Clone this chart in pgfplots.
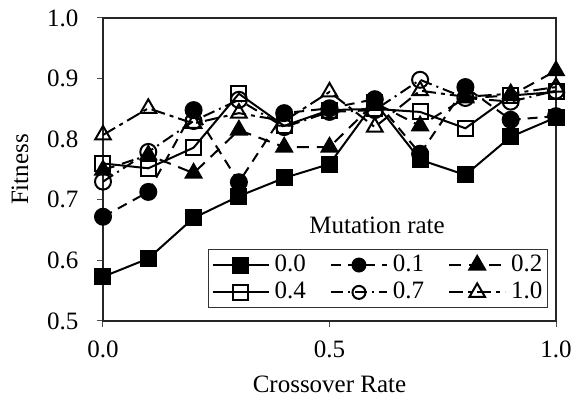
\documentclass[border=0pt]{standalone}
\usepackage{fontspec}
\setmainfont{Liberation Serif}
\usepackage{pgfplots}
\pgfplotsset{compat=1.18}
\newcommand\bigf{\fontsize{25bp}{29bp}\selectfont}
\begin{document}
\bigf
\begin{tikzpicture}
\begin{axis}[
 scale only axis, width=453bp, height=303bp,
 xmin=0, xmax=1, ymin=0.5, ymax=1.0,
 xtick={0,0.5,1}, ytick={0.5,0.6,0.7,0.8,0.9,1.0},
 tick align=outside, tick pos=left, major tick length=6bp,
 tick style={line width=1bp, color=black!70},
 /pgf/number format/.cd, fixed, fixed zerofill, precision=1, assume math mode=true,
 /pgfplots/.cd,
 ticklabel style={font=\bigf},
 xticklabel style={yshift=-5bp},
 yticklabel style={xshift=-10bp},
 axis line style={line width=1.2bp, color=black!85},
 xlabel={Crossover Rate}, ylabel={Fitness},
 label style={font=\bigf},
 xlabel style={yshift=-2bp},
 ylabel style={yshift=2bp},
 legend columns=3,
 legend style={at={(axis description cs:0.982,0.043)}, anchor=south east,
   font=\bigf, draw=black!80, line width=0.8bp,
   /tikz/every odd column/.append style={column sep=3bp},
   /tikz/every even column/.append style={column sep=22bp},
   inner sep=3bp, row sep=3bp},
 legend image code/.code={\draw[mark repeat=2,mark phase=2, mark size=6.5bp] plot coordinates {(0bp,0bp)(28bp,0bp)(56bp,0bp)};},
 every axis plot/.append style={line width=2bp, black, mark size=8bp},
]
\addplot[mark=square*, mark options={solid, mark size=7.5bp}] coordinates {
(0,0.573)(0.1,0.603)(0.2,0.670)(0.3,0.706)(0.4,0.736)(0.5,0.759)(0.6,0.861)(0.7,0.766)(0.8,0.741)(0.9,0.804)(1.0,0.836)};
\addlegendentry{0.0}
\addplot[mark=*, dash pattern=on 10bp off 7bp, mark options={solid}] coordinates {
(0,0.672)(0.1,0.713)(0.2,0.848)(0.3,0.729)(0.4,0.843)(0.5,0.851)(0.6,0.866)(0.7,0.776)(0.8,0.886)(0.9,0.832)(1.0,0.838)};
\addlegendentry{0.1}
\addplot[mark=triangle*, dash pattern=on 12bp off 8bp, mark options={solid, mark size=9bp}] coordinates {
(0,0.749)(0.1,0.774)(0.2,0.744)(0.3,0.815)(0.4,0.787)(0.5,0.787)(0.6,0.860)(0.7,0.822)(0.8,0.868)(0.9,0.872)(1.0,0.913)};
\addlegendentry{0.2}
\addplot[mark=square, mark options={solid, mark size=7.5bp}] coordinates {
(0,0.760)(0.1,0.752)(0.2,0.786)(0.3,0.875)(0.4,0.822)(0.5,0.848)(0.6,0.850)(0.7,0.845)(0.8,0.818)(0.9,0.872)(1.0,0.878)};
\addlegendentry{0.4}
\addplot[mark=o, dash pattern=on 12bp off 5bp on 2bp off 5bp, mark options={solid}] coordinates {
(0,0.730)(0.1,0.779)(0.2,0.830)(0.3,0.865)(0.4,0.820)(0.5,0.845)(0.6,0.848)(0.7,0.898)(0.8,0.868)(0.9,0.862)(1.0,0.880)};
\addlegendentry{0.7}
\addplot[mark=triangle, dash pattern=on 14bp off 5bp on 4bp off 5bp, mark options={solid, mark size=9bp}] coordinates {
(0,0.807)(0.1,0.851)(0.2,0.826)(0.3,0.843)(0.4,0.830)(0.5,0.878)(0.6,0.820)(0.7,0.880)(0.8,0.870)(0.9,0.875)(1.0,0.886)};
\addlegendentry{1.0}
\node[font=\bigf] at (axis description cs:0.605,0.317) {Mutation rate};
\end{axis}
\path[use as bounding box] (-103bp,-78bp) rectangle (479bp,321bp);
\end{tikzpicture}
\end{document}
